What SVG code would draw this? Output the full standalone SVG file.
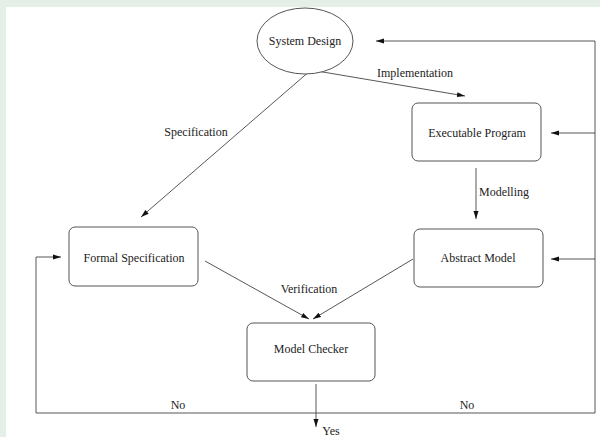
<svg xmlns="http://www.w3.org/2000/svg" width="600" height="437" viewBox="0 0 600 437">
<style>
.n{fill:#fff;stroke:#555;stroke-width:1}
.t{font-family:"Liberation Serif",serif;font-size:12px;fill:#222;text-anchor:middle}
.c{fill:none;stroke:#444;stroke-width:0.9}
</style>
<defs>
<marker id="a" viewBox="0 0 8 6" refX="8" refY="3" markerWidth="8" markerHeight="6" markerUnits="userSpaceOnUse" orient="auto">
<path d="M0,0.5 L8,3 L0,5.5 Z" fill="#111"/>
</marker>
</defs>
<rect x="0" y="0" width="600" height="437" fill="#e5efe8"/>
<rect x="6" y="7" width="594" height="430" fill="#fff"/>
<g id="connectors">
<path class="c" d="M311,70 L141,217" marker-end="url(#a)"/>
<path class="c" d="M311,70 L465,96" marker-end="url(#a)"/>
<path class="c" d="M476,168 L476,219" marker-end="url(#a)"/>
<path class="c" d="M205,261 L309,319" marker-end="url(#a)"/>
<path class="c" d="M413,259 L313,319" marker-end="url(#a)"/>
<path class="c" d="M316,384 L316,427" marker-end="url(#a)"/>
<path class="c" d="M36,413 L595,413"/>
<path class="c" d="M36,413 L36,257 L61,257" marker-end="url(#a)"/>
<path class="c" d="M595,413 L595,41 L376,41" marker-end="url(#a)"/>
<path class="c" d="M595,133 L551,133" marker-end="url(#a)"/>
<path class="c" d="M595,259 L551,259" marker-end="url(#a)"/>
<text class="t" x="415" y="77">Implementation</text>
<text class="t" x="196" y="136">Specification</text>
<text class="t" x="504" y="196">Modelling</text>
<text class="t" x="309" y="293">Verification</text>
<text class="t" x="178" y="409">No</text>
<text class="t" x="467" y="409">No</text>
<text class="t" x="331" y="435">Yes</text>
</g>
<g id="system-design">
<ellipse class="n" cx="305" cy="41" rx="48" ry="33"/>
<text class="t" x="305" y="45">System Design</text>
</g>
<g id="executable-program">
<rect class="n" x="412" y="103" width="129" height="58" rx="6"/>
<text class="t" x="477" y="137">Executable Program</text>
</g>
<g id="abstract-model">
<rect class="n" x="414" y="229" width="129" height="58" rx="6"/>
<text class="t" x="478" y="262">Abstract Model</text>
</g>
<g id="formal-specification">
<rect class="n" x="69" y="227" width="129" height="59" rx="6"/>
<text class="t" x="134" y="262">Formal Specification</text>
</g>
<g id="model-checker">
<rect class="n" x="247" y="323" width="128" height="58" rx="6"/>
<text class="t" x="311" y="353">Model Checker</text>
</g>
</svg>
